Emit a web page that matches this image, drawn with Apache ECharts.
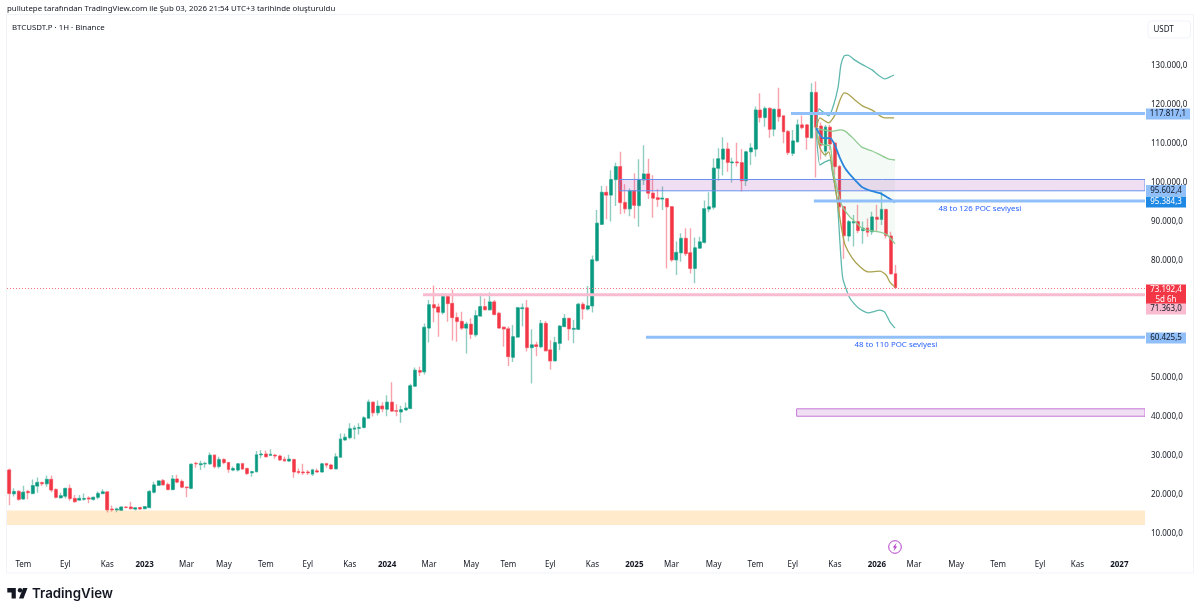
<!DOCTYPE html>
<html>
<head>
    <meta charset="UTF-8">
    <title>BTCUSDT.P</title>
    <script src="https://cdn.jsdelivr.net/npm/echarts@6/dist/echarts.min.js"></script>
    <style>
        html, body { margin: 0; padding: 0; background: #fff; }
    </style>
</head>
<body>
<div id="chart" style="width:1200px; height:613px;"></div>
<script>
    // haftalik mumlar: acilis, kapanis, dusuk, yuksek (bin USDT)
    var candles = [
        [26.4,20.4,17.4,26.8],[20.3,20.9,19.6,21.7],[20.9,18.9,18.5,21.3],[19.0,20.7,18.7,22.4],[20.9,20.6,18.9,21.3],
        [20.4,22.4,20.4,24.0],[22.3,23.2,20.6,24.5],[23.2,22.9,22.3,23.4],[22.9,24.0,22.1,25.0],[24.0,21.3,20.7,25.0],
        [21.4,19.4,19.1,21.7],[19.3,19.8,19.1,20.6],[19.7,21.7,19.1,21.7],[21.7,19.1,18.5,22.7],[19.1,18.3,18.0,20.0],
        [18.7,19.1,18.5,20.0],[18.9,19.1,18.5,20.4],[19.2,19.0,17.9,19.7],[18.9,19.4,18.5,19.6],[19.4,20.4,18.9,20.9],
        [20.4,20.8,20.3,21.5],[20.8,16.2,15.5,20.8],[16.4,16.2,15.7,17.3],[16.2,16.4,15.6,16.8],[16.1,16.9,15.9,17.2],
        [16.9,16.8,16.6,17.2],[16.9,16.5,16.3,18.3],[16.4,16.7,16.0,16.9],[16.8,16.4,16.3,17.0],[16.5,17.0,16.3,17.2],
        [16.8,20.9,16.6,21.3],[20.7,22.6,20.4,23.4],[22.5,23.6,22.3,23.8],[23.7,22.6,22.5,24.1],[22.7,21.4,21.3,23.2],
        [21.4,24.1,21.3,25.1],[24.1,23.3,23.0,25.2],[23.5,22.0,21.7,24.0],[22.0,21.9,19.4,22.2],[21.7,27.9,21.5,28.1],
        [28.1,28.0,27.0,28.5],[27.8,28.0,26.4,28.8],[28.0,28.1,27.0,28.5],[28.0,30.2,27.7,30.9],[30.2,27.3,26.8,30.4],
        [27.3,29.1,26.8,29.8],[29.1,28.3,27.9,29.4],[28.3,26.6,25.7,28.5],[26.4,26.8,26.1,27.3],[26.4,28.0,26.0,28.1],
        [28.0,26.7,26.4,28.3],[26.8,25.5,25.1,27.0],[25.7,26.0,24.7,26.2],[26.0,30.3,25.8,31.3],[30.3,30.5,29.4,31.5],
        [30.5,29.8,29.6,31.4],[30.2,30.4,30.0,31.7],[30.2,30.0,29.3,30.5],[30.0,29.0,28.7,30.3],[29.1,28.8,28.5,29.8],
        [28.7,29.2,28.5,30.3],[29.1,25.9,24.4,29.2],[26.0,25.8,25.3,26.8],[25.9,25.7,25.1,28.0],[25.9,25.7,25.1,26.4],
        [25.4,26.4,24.9,26.7],[26.2,25.9,25.8,26.8],[25.9,28.0,25.8,28.3],[28.0,27.7,27.0,28.3],[27.7,26.7,26.6,28.0],
        [26.7,29.8,26.7,30.7],[29.7,34.3,29.6,35.8],[34.1,34.8,33.9,35.8],[34.7,37.0,34.3,38.4],[36.9,37.1,34.3,37.8],
        [37.1,37.3,35.5,38.4],[37.3,39.8,37.1,40.2],[39.7,43.8,39.7,44.5],[43.8,41.1,40.1,43.9],[41.1,42.8,40.4,44.2],
        [42.8,42.1,41.2,43.8],[42.0,43.8,40.2,45.6],[43.8,41.5,41.3,48.9],[41.6,41.5,40.2,43.3],[41.3,41.9,38.5,42.9],
        [41.8,42.3,41.6,43.7],[42.2,48.0,42.0,48.5],[47.9,52.0,47.8,52.7],[51.9,51.5,50.5,52.9],[51.6,63.0,50.9,64.0],
        [62.8,68.8,59.1,70.0],[68.8,68.0,64.3,73.7],[68.2,66.9,60.6,69.1],[66.8,70.9,66.3,71.7],[70.9,69.1,64.4,71.3],
        [69.1,65.5,59.6,72.7],[65.5,64.5,59.3,66.8],[64.5,62.8,62.3,67.0],[62.8,63.8,56.3,64.4],[63.8,61.2,60.0,65.3],
        [61.1,66.0,60.6,67.4],[65.9,68.3,65.7,71.7],[68.3,67.5,67.3,70.4],[67.5,69.5,67.3,71.9],[69.5,66.3,66.2,70.0],
        [66.6,62.8,62.6,67.0],[63.0,62.6,58.0,63.2],[62.6,55.5,53.1,63.2],[55.3,60.6,54.1,63.6],[60.5,68.0,60.3,68.3],
        [67.8,68.0,63.3,69.1],[68.0,57.8,56.8,70.0],[57.8,58.5,48.6,62.5],[58.5,58.1,55.6,59.3],[58.0,64.0,57.6,64.9],
        [64.0,57.0,56.8,64.6],[57.2,54.4,52.2,59.7],[54.4,59.1,54.2,60.6],[58.9,63.3,57.2,63.6],[63.2,65.3,63.0,66.4],
        [65.3,62.6,59.6,65.3],[62.5,62.7,58.9,64.9],[62.5,68.9,62.3,69.3],[68.9,67.7,65.0,69.4],[67.7,68.5,67.3,73.6],
        [68.5,80.3,66.8,81.4],[80.1,89.7,79.8,93.1],[89.4,97.6,89.2,99.3],[97.6,96.9,90.7,99.2],[96.9,100.9,90.1,103.3],
        [100.9,104.2,94.1,105.2],[104.2,95.0,92.0,108.0],[95.0,93.4,92.2,99.7],[93.4,98.0,91.5,98.6],[98.0,94.3,90.9,102.5],
        [94.2,100.9,88.8,106.1],[100.8,102.3,99.5,109.7],[102.3,97.4,95.9,106.2],[97.4,96.1,91.1,102.0],[96.2,95.8,93.9,98.4],
        [95.9,96.1,93.1,99.1],[96.0,93.9,78.1,96.1],[93.9,80.3,79.8,94.1],[80.3,82.2,76.4,85.0],[82.1,85.8,79.8,87.1],
        [85.8,81.9,81.3,88.4],[82.1,78.1,76.8,88.4],[78.1,83.4,74.3,86.0],[83.3,84.9,83.1,86.2],[84.8,93.4,84.5,95.5],
        [93.3,93.9,92.5,97.6],[93.8,103.8,93.2,106.3],[103.8,106.2,100.6,108.9],[106.1,108.7,101.9,111.7],[108.7,105.3,102.9,110.4],
        [105.2,105.4,100.1,106.5],[105.4,105.2,104.2,110.3],[105.2,100.6,97.8,108.7],[100.6,108.0,99.2,108.3],[108.0,109.0,104.6,110.2],
        [108.7,118.7,106.7,119.6],[118.7,116.8,115.5,123.0],[116.8,119.1,114.4,119.6],[119.1,113.8,111.6,119.4],[113.8,118.9,112.0,119.1],
        [118.9,117.0,115.7,124.4],[117.2,113.2,110.2,117.4],[113.2,107.8,107.2,113.6],[107.6,110.8,106.9,113.6],[110.6,114.9,110.3,116.3],
        [114.9,114.2,113.8,117.3],[114.9,111.7,108.5,115.1],[111.6,123.2,111.5,125.6],[123.2,114.3,101.4,126.0],[114.6,109.7,106.0,115.5],
        [108.2,114.3,106.7,114.9],[114.3,110.0,108.4,114.9],[110.2,104.2,102.0,110.6],[104.2,93.9,92.0,104.6],[93.9,86.5,80.5,94.0],
        [86.4,90.1,85.0,90.5],[89.8,90.1,83.7,91.8],[90.1,87.8,87.1,94.4],[87.8,88.4,84.4,90.1],[88.4,87.4,86.2,90.9],
        [87.5,91.3,86.7,92.6],[91.2,90.7,87.5,94.4],[90.7,93.2,89.2,97.8],[93.2,86.5,85.8,93.2],[86.4,76.7,76.7,87.5],
        [76.7,73.2,73.0,79.0]
    ];

    // alt eksen etiketleri ve hafta sirasi
    var tickLabels = ['Tem','Eyl','Kas','2023','Mar','May','Tem','Eyl','Kas','2024','Mar','May','Tem','Eyl','Kas','2025','Mar','May','Tem','Eyl','Kas','2026','Mar','May','Tem','Eyl','Kas','2027'];
    var tickWeeks = [3,12,21,29,38,46,55,64,73,81,90,99,107,116,125,134,142,151,160,168,177,186,194,203,212,221,229,238];
    var weekCount = 244;

    // anchored vwap cizgileri: [hafta, bin USDT]
    var upperTeal = [[173.5,114.1],[174.1,119.0],[175.0,118.2],[176.2,117.2],[177.1,119.5],[178.2,124.6],[178.8,130.3],[179.5,132.6],[180.3,132.8],[181.8,131.5],[183.5,130.3],[185.5,129.0],[186.8,127.7],[188.2,126.7],[189.3,127.2],[190.2,127.7]];
    var upperOlive = [[173.5,114.1],[174.3,116.7],[175.4,115.9],[176.2,115.4],[177.5,117.4],[178.6,121.3],[179.5,123.1],[180.3,122.8],[181.8,121.3],[183.5,119.7],[185.5,118.7],[187.2,117.2],[188.2,116.7],[190.2,116.7]];
    var upperGreen = [[173.5,114.1],[175.0,113.6],[176.9,113.3],[178.6,113.6],[179.7,113.3],[181.4,111.5],[183.3,109.2],[185.5,108.2],[187.2,107.2],[188.9,106.2],[190.4,105.9]];
    var vwapLine = [[173.5,114.1],[175.0,111.5],[176.5,111.5],[177.5,109.7],[178.6,106.4],[179.7,103.8],[181.4,101.3],[183.3,99.0],[185.5,97.9],[187.2,97.4],[188.9,96.2],[190.4,95.1]];
    var lowerGreen = [[173.5,114.1],[174.3,110.3],[175.4,109.7],[176.5,109.5],[177.1,103.3],[177.7,100.0],[178.6,95.6],[179.2,93.8],[180.7,91.3],[182.2,89.7],[183.5,88.2],[185.5,87.7],[187.2,87.4],[188.7,86.7],[190.4,84.4]];
    var lowerOlive = [[173.5,114.1],[174.3,109.0],[175.4,107.2],[176.2,108.0],[177.1,102.6],[178.0,95.6],[179.0,87.9],[179.7,84.1],[181.2,80.8],[182.9,78.5],[184.6,77.2],[187.2,77.4],[188.5,76.4],[189.3,74.6],[190.4,73.3]];
    var lowerTeal = [[173.5,113.6],[174.3,104.6],[175.4,105.4],[176.5,105.9],[176.9,103.3],[178.0,95.6],[178.6,84.6],[179.2,75.6],[180.7,70.5],[182.5,68.0],[184.6,66.7],[187.2,67.4],[188.2,66.9],[189.3,64.4],[190.4,62.8]];

    // yatay seviyeler
    var levelPrices = [117817.1, 95384.3, 71363.0, 60425.5];
    var levelStarts = [168.1, 173.0, 89.2, 137.0];
    var lastPrice = 73192.4;

    // bolgeler: baslangic haftasi, ust, alt
    var zoneStarts = [0, 131.4, 169.3];
    var zoneTops = [16000, 100900, 42100];
    var zoneBottoms = [12300, 98000, 40200];

    // sag eksen etiketleri (cakisanlar TradingView gibi kaydirilmis)
    var tagTexts = ['117.817,1', '95.602,4', '95.384,3', '73.192,4\n5d 6h', '71.363,0', '60.425,5'];
    var tagAt = [117700, 98100, 95100, 71400, 67700, 60260];

    var notes = ['48 to 126 POC seviyesi', '48 to 110 POC seviyesi'];
    var notePoints = [[208.6, 93400], [190.6, 58500]];

    var tagStyles = [
        {fill: '#90bff9', ink: '#131722', w: 44, h: 11},
        {fill: '#90bff9', ink: '#131722', w: 40, h: 11},
        {fill: '#1e88e5', ink: '#ffffff', w: 40, h: 11},
        {fill: '#f23645', ink: '#ffffff', w: 40, h: 20},
        {fill: '#f8bbd0', ink: '#131722', w: 40, h: 11},
        {fill: '#90bff9', ink: '#131722', w: 40, h: 11}
    ];
    var zoneStyles = [
        {fill: 'rgba(255,152,0,0.2)', line: null},
        {fill: 'rgba(156,39,176,0.15)', line: '#6a90ee'},
        {fill: 'rgba(156,39,176,0.15)', line: '#c678d8'}
    ];
    var levelColors = ['#90bff9', '#90bff9', '#f8bbd0', '#90bff9'];

    var upColor = '#089981', downColor = '#f23645';
    var font = '"Noto Sans", sans-serif';

    var categories = [];
    for (var i = 0; i < weekCount; i++) {
        var at = tickWeeks.indexOf(i);
        categories.push(at >= 0 ? tickLabels[at] : '');
    }

    function inThousands(row) {
        return row.map(function (v) { return v * 1000; });
    }
    var wickData = candles.map(inThousands);
    // govde serisi: fitil yok, sadece acilis-kapanis
    var bodyData = wickData.map(function (r) {
        return [r[0], r[1], Math.min(r[0], r[1]), Math.max(r[0], r[1])];
    });

    function priceLabel(v) {
        var s = String(Math.round(v));
        return s.replace(/\B(?=(\d{3})+$)/g, '.') + ',0';
    }

    function bandLine(name, points, color, width) {
        return {
            name: name, type: 'line', xAxisIndex: 1, z: 6, showSymbol: false, smooth: 0.2,
            lineStyle: {color: color, width: width},
            data: points.map(function (p) { return [p[0], p[1] * 1000]; })
        };
    }

    var series = [
        {
            name: 'wick', type: 'candlestick', z: 2, barWidth: 2, data: wickData,
            itemStyle: {color: '#a3d6cc', color0: '#f9b0b7', borderColor: '#8fcdc0', borderColor0: '#f8a3ac', borderWidth: 1.4}
        },
        {
            name: 'body', type: 'candlestick', z: 3, barWidth: 3.4, data: bodyData,
            itemStyle: {color: upColor, color0: downColor, borderColor: upColor, borderColor0: downColor, borderWidth: 0.4}
        },
        {
            // yesil dolgu, iki bant arasi
            name: 'fill', type: 'custom', xAxisIndex: 1, z: 4, data: [[0, 0]], clip: true,
            renderItem: function (params, api) {
                var ring = upperGreen.concat(lowerGreen.slice().reverse());
                return {
                    type: 'polygon',
                    shape: {points: ring.map(function (p) { return api.coord([p[0], p[1] * 1000]); })},
                    style: {fill: 'rgba(76,175,80,0.06)'}
                };
            }
        },
        {
            name: 'zones', type: 'custom', xAxisIndex: 1, z: 5, clip: true,
            data: zoneStarts.map(function (s, k) { return [s, zoneTops[k], weekCount, zoneBottoms[k]]; }),
            renderItem: function (params, api) {
                var a = api.coord([api.value(0), api.value(1)]);
                var b = api.coord([api.value(2), api.value(3)]);
                var st = zoneStyles[params.dataIndex];
                return {
                    type: 'rect',
                    shape: {x: a[0], y: a[1], width: b[0] - a[0], height: b[1] - a[1]},
                    style: {fill: st.fill, stroke: st.line, lineWidth: st.line ? 1 : 0}
                };
            }
        },
        {
            // son fiyat cizgisi
            name: 'last', type: 'custom', xAxisIndex: 1, z: 5, clip: true,
            data: [[0, lastPrice, weekCount, lastPrice]],
            renderItem: function (params, api) {
                var a = api.coord([api.value(0), api.value(1)]);
                var b = api.coord([api.value(2), api.value(3)]);
                return {
                    type: 'line',
                    shape: {x1: a[0], y1: Math.round(a[1]) + 0.5, x2: b[0], y2: Math.round(b[1]) + 0.5},
                    style: {stroke: '#f7707b', lineWidth: 1, lineDash: [1, 2]}
                };
            }
        },
        bandLine('upperTeal', upperTeal, '#5fb8ae', 1.3),
        bandLine('lowerTeal', lowerTeal, '#5fb8ae', 1.3),
        bandLine('upperOlive', upperOlive, '#aaa24e', 1.3),
        bandLine('lowerOlive', lowerOlive, '#aaa24e', 1.3),
        bandLine('upperGreen', upperGreen, '#8fcb92', 1.3),
        bandLine('lowerGreen', lowerGreen, '#8fcb92', 1.3),
        bandLine('vwap', vwapLine, '#2a85de', 1.8),
        {
            name: 'notes', type: 'custom', xAxisIndex: 1, z: 8,
            data: notePoints,
            renderItem: function (params, api) {
                var c = api.coord([api.value(0), api.value(1)]);
                return {
                    type: 'text',
                    style: {
                        text: notes[params.dataIndex], x: c[0], y: c[1],
                        align: 'center', verticalAlign: 'middle', fill: '#2962ff', font: '7.9px ' + font
                    }
                };
            }
        },
        {
            name: 'tags', type: 'custom', xAxisIndex: 1, z: 20,
            data: tagAt.map(function (v) { return [weekCount, v]; }),
            renderItem: function (params, api) {
                var c = api.coord([api.value(0), api.value(1)]);
                var st = tagStyles[params.dataIndex];
                var x = c[0] + 1;
                return {
                    type: 'group',
                    children: [
                        {
                            type: 'rect',
                            shape: {x: x, y: c[1] - st.h / 2, width: st.w, height: st.h},
                            style: {fill: st.fill}
                        },
                        {
                            type: 'text',
                            style: {
                                text: tagTexts[params.dataIndex], x: x + st.w / 2, y: c[1],
                                align: 'center', verticalAlign: 'middle', fill: st.ink,
                                font: '8px ' + font, lineHeight: 10
                            }
                        }
                    ]
                };
            }
        }
    ];

    levelPrices.forEach(function (v, k) {
        series.push({
            name: 'level' + k, type: 'line', xAxisIndex: 1, z: 7, showSymbol: false,
            lineStyle: {color: levelColors[k], width: 3, cap: 'butt'},
            data: [[levelStarts[k], v], [weekCount, v]]
        });
    });

    var chart = echarts.init(document.getElementById('chart'), null, {renderer: 'canvas'});
    chart.setOption({
        animation: false,
        backgroundColor: '#ffffff',
        textStyle: {fontFamily: font},
        title: [
            {text: 'pullutepe tarafından TradingView.com ile Şub 03, 2026 21:54 UTC+3 tarihinde oluşturuldu', left: 7, top: 5, padding: 0,
                textStyle: {fontSize: 7.85, fontWeight: 'normal', color: '#131722', fontFamily: font}},
            {text: 'BTCUSDT.P · 1H · Binance', left: 12, top: 24, padding: 0,
                textStyle: {fontSize: 7.85, fontWeight: 'normal', color: '#131722', fontFamily: font}}
        ],
        grid: {left: 7, right: 55, top: 14, bottom: 40, containLabel: false},
        xAxis: [
            {
                type: 'category', data: categories, boundaryGap: true,
                axisLine: {show: false}, axisTick: {show: false}, splitLine: {show: false},
                axisLabel: {
                    show: true, inside: true, interval: 0, margin: 4, fontSize: 8, color: '#131722', fontFamily: font,
                    formatter: function (v) { return /^\d{4}$/.test(v) ? '{y|' + v + '}' : v; },
                    rich: {y: {fontWeight: 'bold', fontSize: 8, color: '#131722', fontFamily: font}}
                }
            },
            {type: 'value', min: 0, max: weekCount, show: false}
        ],
        yAxis: {
            type: 'value', position: 'right', min: 0, max: 143333, interval: 10000,
            axisLine: {show: false}, axisTick: {show: false}, splitLine: {show: false},
            axisLabel: {
                margin: 6, fontSize: 8, color: '#131722', fontFamily: font, padding: [4, 0, 0, 0],
                formatter: function (v) {
                    if (v <= 0 || v > 130000 || v === 70000) { return ''; }
                    return priceLabel(v);
                }
            }
        },
        series: series,
        graphic: [
            {type: 'rect', silent: true, z: 0, shape: {x: 6.5, y: 14.5, width: 1187, height: 558.5},
                style: {fill: 'none', stroke: '#f0f3fa', lineWidth: 1}},
            {type: 'rect', z: 30, shape: {x: 1148, y: 21, width: 42.5, height: 17, r: 3},
                style: {fill: '#fff', stroke: '#f0f3fa', lineWidth: 1}},
            {type: 'text', z: 31, style: {text: 'USDT', x: 1153.5, y: 29.5, verticalAlign: 'middle', fill: '#131722', font: '8px ' + font}},
            // olay ikonu
            {type: 'circle', z: 30, shape: {cx: 895, cy: 547, r: 6.3}, style: {fill: '#fff', stroke: '#b341c8', lineWidth: 1}},
            {type: 'polygon', z: 31, shape: {points: [[896.6, 542.8], [892.8, 547.5], [894.7, 547.5], [893.5, 551.2], [897.2, 546.5], [895.3, 546.5]]},
                style: {fill: '#b341c8'}},
            // logo
            {type: 'polygon', z: 30, shape: {points: [[7.3, 588], [15.8, 588], [15.8, 598.5], [11.6, 598.5], [11.6, 592.5], [7.3, 592.5]]}, style: {fill: '#131722'}},
            {type: 'circle', z: 30, shape: {cx: 20, cy: 590.3, r: 2.2}, style: {fill: '#131722'}},
            {type: 'polygon', z: 30, shape: {points: [[23, 588], [27.5, 588], [23.5, 598.5], [19, 598.5]]}, style: {fill: '#131722'}},
            {type: 'text', z: 30, style: {text: 'TradingView', x: 32, y: 593.5, verticalAlign: 'middle', fill: '#131722', font: '600 13.3px Inter, ' + font}}
        ]
    });
</script>
</body>
</html>
